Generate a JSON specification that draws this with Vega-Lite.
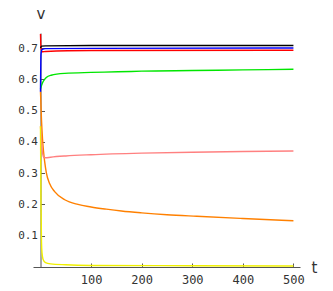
{
  "$schema": "https://vega.github.io/schema/vega-lite/v6.json",
  "autosize": {"type": "none"},
  "padding": {"left": 33, "top": 33, "right": 33, "bottom": 24},
  "width": 267,
  "height": 234,
  "background": "white",
  "config": {"view": {"stroke": null}},
  "data": {"values": [
    {"s": "orange", "t": 0, "v": 0.56},
    {"s": "orange", "t": 2, "v": 0.47},
    {"s": "orange", "t": 4, "v": 0.41},
    {"s": "orange", "t": 6, "v": 0.37},
    {"s": "orange", "t": 8, "v": 0.34},
    {"s": "orange", "t": 11.5, "v": 0.302},
    {"s": "orange", "t": 18, "v": 0.267},
    {"s": "orange", "t": 28, "v": 0.241},
    {"s": "orange", "t": 48, "v": 0.215},
    {"s": "orange", "t": 74, "v": 0.2},
    {"s": "orange", "t": 100, "v": 0.192},
    {"s": "orange", "t": 130, "v": 0.185},
    {"s": "orange", "t": 160, "v": 0.179},
    {"s": "orange", "t": 200, "v": 0.173},
    {"s": "orange", "t": 250, "v": 0.167},
    {"s": "orange", "t": 309, "v": 0.162},
    {"s": "orange", "t": 400, "v": 0.155},
    {"s": "orange", "t": 500, "v": 0.148},
    {"s": "pink", "t": 0, "v": 0.45},
    {"s": "pink", "t": 2, "v": 0.4},
    {"s": "pink", "t": 4, "v": 0.365},
    {"s": "pink", "t": 7, "v": 0.35},
    {"s": "pink", "t": 10, "v": 0.349},
    {"s": "pink", "t": 20, "v": 0.351},
    {"s": "pink", "t": 50, "v": 0.355},
    {"s": "pink", "t": 100, "v": 0.359},
    {"s": "pink", "t": 200, "v": 0.364},
    {"s": "pink", "t": 300, "v": 0.367},
    {"s": "pink", "t": 400, "v": 0.369},
    {"s": "pink", "t": 500, "v": 0.371},
    {"s": "green", "t": 0, "v": 0.57},
    {"s": "green", "t": 2, "v": 0.58},
    {"s": "green", "t": 5, "v": 0.592},
    {"s": "green", "t": 11.5, "v": 0.606},
    {"s": "green", "t": 21, "v": 0.613},
    {"s": "green", "t": 48, "v": 0.619},
    {"s": "green", "t": 100, "v": 0.622},
    {"s": "green", "t": 153, "v": 0.624},
    {"s": "green", "t": 200, "v": 0.626},
    {"s": "green", "t": 300, "v": 0.628},
    {"s": "green", "t": 400, "v": 0.63},
    {"s": "green", "t": 500, "v": 0.632},
    {"s": "yellow", "t": 0, "v": 0.45},
    {"s": "yellow", "t": 1, "v": 0.2},
    {"s": "yellow", "t": 2, "v": 0.08},
    {"s": "yellow", "t": 3, "v": 0.045},
    {"s": "yellow", "t": 5, "v": 0.025},
    {"s": "yellow", "t": 10, "v": 0.014},
    {"s": "yellow", "t": 20, "v": 0.01},
    {"s": "yellow", "t": 50, "v": 0.007},
    {"s": "yellow", "t": 100, "v": 0.005},
    {"s": "yellow", "t": 300, "v": 0.004},
    {"s": "yellow", "t": 500, "v": 0.003},
    {"s": "red", "t": 0, "v": 0.745},
    {"s": "red", "t": 1, "v": 0.7},
    {"s": "red", "t": 3, "v": 0.688},
    {"s": "red", "t": 10, "v": 0.689},
    {"s": "red", "t": 100, "v": 0.692},
    {"s": "red", "t": 500, "v": 0.693},
    {"s": "blue", "t": 0, "v": 0.56},
    {"s": "blue", "t": 1, "v": 0.68},
    {"s": "blue", "t": 3, "v": 0.695},
    {"s": "blue", "t": 10, "v": 0.698},
    {"s": "blue", "t": 100, "v": 0.699},
    {"s": "blue", "t": 500, "v": 0.7},
    {"s": "black", "t": 0, "v": 0.7},
    {"s": "black", "t": 2, "v": 0.706},
    {"s": "black", "t": 10, "v": 0.707},
    {"s": "black", "t": 100, "v": 0.708},
    {"s": "black", "t": 500, "v": 0.708}
  ]},
  "mark": {"type": "line", "strokeWidth": 1.4, "interpolate": "monotone", "clip": true},
  "encoding": {
    "x": {
      "field": "t", "type": "quantitative",
      "scale": {"domain": [-14.8, 513], "nice": false, "zero": false},
      "axis": {
        "values": [100, 200, 300, 400, 500],
        "grid": false,
        "title": "t",
        "titleX": 281, "titleY": 0, "titleAlign": "center", "titleBaseline": "middle", "titleAngle": 0,
        "titleFont": "DejaVu Sans", "titleFontSize": 15, "titleFontWeight": "normal", "titleColor": "#333",
        "labelFont": "DejaVu Sans Mono", "labelFontSize": 12, "labelColor": "#333",
        "labelPadding": 11,
        "domainColor": "#555", "tickColor": "#555", "tickSize": -4
      }
    },
    "y": {
      "field": "v", "type": "quantitative",
      "scale": {"domain": [0, 0.748], "nice": false, "zero": false},
      "axis": {
        "offset": -7.5,
        "values": [0.1, 0.2, 0.3, 0.4, 0.5, 0.6, 0.7],
        "format": ".1f",
        "grid": false,
        "title": "v",
        "titleX": 0, "titleY": -20, "titleAlign": "center", "titleBaseline": "middle", "titleAngle": 0,
        "titleFont": "DejaVu Sans", "titleFontSize": 15, "titleFontWeight": "normal", "titleColor": "#333",
        "labelFont": "DejaVu Sans Mono", "labelFontSize": 11, "labelColor": "#333",
        "labelPadding": 7,
        "domainColor": "#555", "tickColor": "#555", "tickSize": -4
      }
    },
    "color": {
      "field": "s", "type": "nominal", "legend": null,
      "scale": {
        "domain": ["orange", "pink", "green", "yellow", "red", "blue", "black"],
        "range": ["#ff8000", "#ff8080", "#00e600", "#f0f000", "#ff0000", "#0000ff", "#000000"]
      }
    }
  }
}
